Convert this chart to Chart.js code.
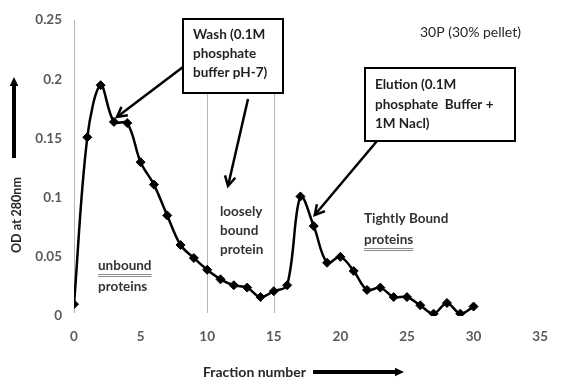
<!DOCTYPE html>
<html lang="en">
<head>
  <meta charset="UTF-8" />
  <title>30P (30% pellet) - elution profile</title>
  <script src="https://cdn.jsdelivr.net/npm/chart.js"></script>
  <style>
    html, body { margin: 0; padding: 0; background: #fff; }
    .chart-box { width: 561px; height: 382px; }
  </style>
</head>
<body>
  <div class="chart-box">
    <canvas id="elution-chart" width="561" height="382"></canvas>
  </div>

  <script>
    // Fraction numbers and OD at 280nm
    const fractions = [0, 1, 2, 3, 4, 5, 6, 7, 8, 9, 10, 11, 12, 13, 14, 15,
                       16, 17, 18, 19, 20, 21, 22, 23, 24, 25, 26, 27, 28, 29, 30];
    const od = [0.010, 0.151, 0.195, 0.164, 0.163, 0.130, 0.111, 0.085, 0.060, 0.049,
                0.039, 0.031, 0.026, 0.024, 0.016, 0.021, 0.026, 0.101, 0.076, 0.045,
                0.050, 0.038, 0.022, 0.024, 0.016, 0.016, 0.009, 0.002, 0.011, 0.002, 0.008];
    const xTicks = [0, 5, 10, 15, 20, 25, 30, 35];
    const yTicks = [0, 0.05, 0.1, 0.15, 0.2, 0.25];
    const regionBounds = [0, 10, 15]; // gray dividers: load / wash / elution

    const FONT = 'Lato, "Open Sans", sans-serif';

    function drawArrow(ctx, x1, y1, x2, y2, opts) {
      const ang = Math.atan2(y2 - y1, x2 - x1);
      const len = opts.head;
      ctx.save();
      ctx.strokeStyle = '#000';
      ctx.fillStyle = '#000';
      ctx.lineWidth = opts.width;
      ctx.lineCap = 'butt';
      ctx.beginPath();
      if (opts.filled) {
        // stop the shaft short so the triangle tip stays sharp
        ctx.moveTo(x1, y1);
        ctx.lineTo(x2 - Math.cos(ang) * len * 0.8, y2 - Math.sin(ang) * len * 0.8);
        ctx.stroke();
        ctx.beginPath();
        ctx.moveTo(x2, y2);
        ctx.lineTo(x2 - len * Math.cos(ang - 0.45), y2 - len * Math.sin(ang - 0.45));
        ctx.lineTo(x2 - len * Math.cos(ang + 0.45), y2 - len * Math.sin(ang + 0.45));
        ctx.closePath();
        ctx.fill();
      } else {
        ctx.moveTo(x1, y1);
        ctx.lineTo(x2, y2);
        ctx.stroke();
        ctx.beginPath();
        ctx.moveTo(x2 - len * Math.cos(ang - 0.5), y2 - len * Math.sin(ang - 0.5));
        ctx.lineTo(x2, y2);
        ctx.lineTo(x2 - len * Math.cos(ang + 0.5), y2 - len * Math.sin(ang + 0.5));
        ctx.stroke();
      }
      ctx.restore();
    }

    function textBox(ctx, left, top, w, h, lines, lineY) {
      ctx.save();
      ctx.fillStyle = '#fff';
      ctx.fillRect(left, top, w, h);
      ctx.strokeStyle = '#000';
      ctx.lineWidth = 2;
      ctx.strokeRect(left, top, w, h);
      ctx.fillStyle = '#1f1f1f';
      ctx.font = 'bold 13.5px ' + FONT;
      ctx.textBaseline = 'middle';
      ctx.textAlign = 'left';
      lines.forEach((t, i) => ctx.fillText(t, left + 10, lineY[i]));
      ctx.restore();
    }

    function label(ctx, lines, x, ys, underline) {
      ctx.save();
      ctx.fillStyle = '#333';
      ctx.font = 'bold 13.5px ' + FONT;
      ctx.textBaseline = 'middle';
      ctx.textAlign = 'left';
      lines.forEach((t, i) => {
        ctx.fillText(t, x, ys[i]);
        if (underline && underline.includes(i)) {
          const w = ctx.measureText(t).width;
          ctx.strokeStyle = '#8c8c8c';
          ctx.lineWidth = 1;
          ctx.beginPath();
          ctx.moveTo(x, ys[i] + 8.5); ctx.lineTo(x + w, ys[i] + 8.5);
          ctx.moveTo(x, ys[i] + 10.5); ctx.lineTo(x + w, ys[i] + 10.5);
          ctx.stroke();
        }
      });
      ctx.restore();
    }

    const overlay = {
      id: 'overlay',
      beforeDatasetsDraw(chart) {
        const { ctx, scales: { x, y } } = chart;
        ctx.save();
        ctx.strokeStyle = '#b5b5b5';
        ctx.lineWidth = 1;
        regionBounds.forEach(f => {
          const px = Math.round(x.getPixelForValue(f)) + 0.5;
          ctx.beginPath();
          ctx.moveTo(px, y.getPixelForValue(0.25));
          ctx.lineTo(px, y.getPixelForValue(0) - 3);
          ctx.stroke();
        });
        ctx.restore();

        // region captions
        label(ctx, ['unbound', 'proteins'], 98, [266, 287], [0]);
        label(ctx, ['loosely', 'bound', 'protein'], 220, [212, 231, 250]);
        label(ctx, ['Tightly Bound', 'proteins'], 364, [219, 240], [1]);
      },
      afterDatasetsDraw(chart) {
        const { ctx, scales: { x, y } } = chart;

        textBox(ctx, 183, 19, 100, 74, ['Wash (0.1M', 'phosphate', 'buffer pH-7)'], [35, 54, 73]);
        textBox(ctx, 365, 68, 150, 73, ['Elution (0.1M', 'phosphate  Buffer +', '1M Nacl)'], [85, 105, 124]);

        // wash arrows: one to the shoulder after the first peak, one into the wash region
        drawArrow(ctx, 183, 67, x.getPixelForValue(fractions[3]) + 3, y.getPixelForValue(od[3]) - 5, { width: 2.5, head: 11 });
        drawArrow(ctx, 248, 99, 228, 186, { width: 2.5, head: 11 });
        // elution arrow to the second peak
        drawArrow(ctx, 377, 141, x.getPixelForValue(fractions[18]) + 1, y.getPixelForValue(od[18]) - 11, { width: 2.5, head: 11 });

        ctx.save();
        ctx.fillStyle = '#262626';
        ctx.font = '14px ' + FONT;
        ctx.textBaseline = 'middle';
        ctx.fillText('30P (30% pellet)', 420, 32);

        // axis titles with their thick arrows
        ctx.fillStyle = '#262626';
        ctx.font = 'bold 14px ' + FONT;
        ctx.textAlign = 'left';
        ctx.fillText('Fraction number', 203, 372);
        ctx.save();
        ctx.translate(17, 253);
        ctx.rotate(-Math.PI / 2);
        ctx.font = 'bold 12.5px ' + FONT;
        ctx.fillText('OD at 280nm', 0, 0);
        ctx.restore();
        ctx.restore();

        drawArrow(ctx, 313, 372, 404, 372, { width: 4, head: 10, filled: true });
        drawArrow(ctx, 14, 158, 14, 77, { width: 4, head: 10, filled: true });
      }
    };

    const ctx = document.getElementById('elution-chart').getContext('2d');
    new Chart(ctx, {
      type: 'line',
      data: {
        datasets: [{
          label: '30P (30% pellet)',
          data: fractions.map((f, i) => ({ x: f, y: od[i] })),
          borderColor: '#000',
          backgroundColor: '#000',
          borderWidth: 2.5,
          tension: 0.35,
          pointStyle: 'rectRot',
          pointRadius: 4.5,
          pointBorderWidth: 1
        }]
      },
      options: {
        responsive: false,
        animation: false,
        devicePixelRatio: 1,
        layout: { padding: { top: 13, right: 8, left: 0, bottom: 0 } },
        plugins: {
          legend: { display: false },
          tooltip: { enabled: false }
        },
        scales: {
          x: {
            type: 'linear',
            min: 0,
            max: 35,
            afterBuildTicks: s => { s.ticks = xTicks.map(v => ({ value: v })); },
            afterFit: s => { s.height = 66; },
            grid: { display: false, drawTicks: false },
            border: { display: false },
            ticks: {
              padding: 13,
              color: '#595959',
              font: { family: FONT, size: 13.5, weight: 'bold' }
            }
          },
          y: {
            min: 0,
            max: 0.25,
            afterBuildTicks: s => { s.ticks = yTicks.map(v => ({ value: v })); },
            afterFit: s => { s.width = 74; },
            grid: { display: false, drawTicks: false },
            border: { display: false },
            ticks: {
              padding: 12,
              color: '#595959',
              font: { family: FONT, size: 13.5, weight: 'bold' },
              callback: v => String(+v.toFixed(2))
            }
          }
        }
      },
      plugins: [overlay]
    });
  </script>
</body>
</html>
